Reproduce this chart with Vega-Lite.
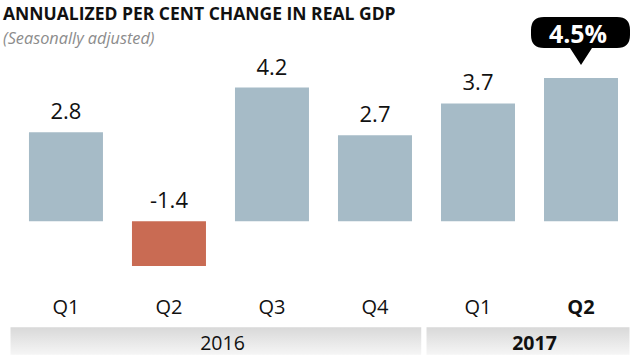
{
  "$schema": "https://vega.github.io/schema/vega-lite/v6.json",
  "background": "white",
  "padding": {"left": 3, "top": 0, "right": 3, "bottom": 0},
  "spacing": 5,
  "title": {
    "text": "ANNUALIZED PER CENT CHANGE IN REAL GDP",
    "subtitle": "(Seasonally adjusted)",
    "anchor": "start",
    "frame": "group",
    "dx": -5,
    "font": "Open Sans",
    "fontSize": 17.5,
    "fontWeight": "bold",
    "color": "#111111",
    "subtitleFont": "Open Sans",
    "subtitleFontSize": 16.3,
    "subtitleFontStyle": "italic",
    "subtitleColor": "#8c8c8c",
    "subtitlePadding": 7,
    "offset": -47
  },
  "datasets": {
    "gdp": [
      {"period": "2016 Q1", "year": "2016", "value": 2.8},
      {"period": "2016 Q2", "year": "2016", "value": -1.4},
      {"period": "2016 Q3", "year": "2016", "value": 4.2},
      {"period": "2016 Q4", "year": "2016", "value": 2.7},
      {"period": "2017 Q1", "year": "2017", "value": 3.7},
      {"period": "2017 Q2", "year": "2017", "value": 4.5}
    ]
  },
  "vconcat": [
    {
      "width": 622,
      "height": 285,
      "data": {"name": "gdp"},
      "encoding": {
        "x": {
          "field": "period",
          "type": "nominal",
          "sort": null,
          "scale": {"paddingInner": 0.2816, "paddingOuter": 0.16, "align": 0.636},
          "axis": {
            "title": null,
            "domain": false,
            "ticks": false,
            "labelAngle": 0,
            "labelFont": "Open Sans",
            "labelFontSize": 20,
            "labelColor": "#111111",
            "labelPadding": 12,
            "labelExpr": "split(datum.label, ' ')[1]",
            "labelFontWeight": {"condition": {"test": "datum.value == '2017 Q2'", "value": "bold"}, "value": "normal"}
          }
        }
      },
      "layer": [
        {
          "mark": {"type": "bar"},
          "encoding": {
            "y": {"field": "value", "type": "quantitative", "scale": {"domain": [-2, 6.95], "nice": false, "zero": false}, "axis": null},
            "color": {"condition": {"test": "datum.value < 0", "value": "#c96b53"}, "value": "#a6bbc7"}
          }
        },
        {
          "mark": {"type": "rule", "color": "#7a7a7a", "strokeWidth": 1.5},
          "encoding": {"y": {"datum": 0}}
        },
        {
          "transform": [{"filter": "datum.value >= 0 && datum.period != '2017 Q2'"}],
          "mark": {"type": "text", "font": "Open Sans", "fontSize": 22, "color": "#111111", "baseline": "alphabetic", "dy": -13},
          "encoding": {
            "y": {"field": "value", "type": "quantitative"},
            "text": {"field": "value", "type": "nominal"}
          }
        },
        {
          "transform": [{"filter": "datum.value < 0"}],
          "mark": {"type": "text", "font": "Open Sans", "fontSize": 22, "color": "#111111", "baseline": "alphabetic", "dy": -13},
          "encoding": {
            "y": {"datum": 0},
            "text": {"field": "value", "type": "nominal"}
          }
        },
        {
          "transform": [{"filter": "datum.period == '2017 Q2'"}],
          "mark": {
            "type": "point",
            "shape": "M -0.74 -1.22 L 0.72 -1.22 Q 0.98 -1.22 0.98 -0.96 L 0.98 -0.86 Q 0.98 -0.6 0.72 -0.6 L 0.22 -0.6 L 0 -0.26 L -0.22 -0.6 L -0.74 -0.6 Q -1 -0.6 -1 -0.86 L -1 -0.96 Q -1 -1.22 -0.74 -1.22 Z",
            "size": 10000,
            "filled": true,
            "color": "#000000",
            "opacity": 1,
            "strokeWidth": 0
          },
          "encoding": {"y": {"field": "value", "type": "quantitative"}}
        },
        {
          "transform": [
            {"filter": "datum.period == '2017 Q2'"},
            {"calculate": "format(datum.value, '.1f') + '%'", "as": "label"}
          ],
          "mark": {"type": "text", "font": "Open Sans", "fontSize": 25, "fontWeight": "bold", "color": "white", "baseline": "alphabetic", "dy": -35, "dx": -3},
          "encoding": {
            "y": {"field": "value", "type": "quantitative"},
            "text": {"field": "label", "type": "nominal"}
          }
        }
      ]
    },
    {
      "width": 624,
      "height": 36,
      "data": {"name": "gdp"},
      "mark": {
        "type": "bar",
        "stroke": "white",
        "strokeWidth": 5,
        "color": {"gradient": "linear", "x1": 0, "y1": 0, "x2": 0, "y2": 1, "stops": [{"offset": 0, "color": "#d6d6d6"}, {"offset": 1, "color": "#f8f8f8"}]}
      },
      "encoding": {
        "x": {
          "aggregate": "count",
          "type": "quantitative",
          "stack": "zero",
          "scale": {"domain": [0, 6], "nice": false},
          "axis": {
            "title": null,
            "domain": false,
            "ticks": false,
            "grid": false,
            "values": [2, 5],
            "labelExpr": "datum.value < 3 ? '2016' : '2017'",
            "labelFont": "Open Sans",
            "labelFontSize": 19.5,
            "labelColor": "#111111",
            "labelBaseline": "alphabetic",
            "labelPadding": -10,
            "labelOffset": 6,
            "zindex": 1,
            "labelFontWeight": {"condition": {"test": "datum.value > 3", "value": "bold"}, "value": "normal"}
          }
        },
        "detail": {"field": "year", "type": "nominal"}
      }
    }
  ],
  "config": {"view": {"stroke": null}}
}
